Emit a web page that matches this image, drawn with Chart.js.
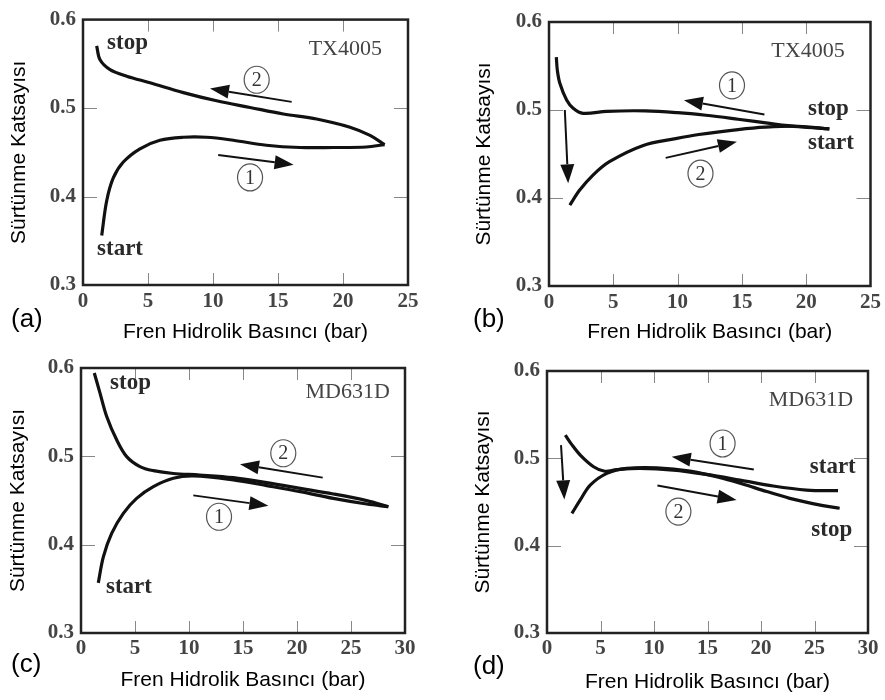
<!DOCTYPE html>
<html lang="tr">
<head>
<meta charset="UTF-8">
<title>Sürtünme Katsayısı - Fren Hidrolik Basıncı</title>
<style>
  body { margin: 0; background: #fff; }
  .wrap { position: relative; width: 885px; height: 700px; overflow: hidden; background: #fff; }
  canvas { position: absolute; }
  .lbl { position: absolute; font-family: "Liberation Sans", Arial, sans-serif; font-size: 26px; line-height: 26px; color: #000; }
</style>
</head>
<body>
<div class="wrap">
  <canvas id="chA" width="440" height="345" style="left:0;top:0"></canvas>
  <canvas id="chB" width="445" height="345" style="left:440px;top:0"></canvas>
  <canvas id="chC" width="440" height="355" style="left:0;top:345px"></canvas>
  <canvas id="chD" width="445" height="355" style="left:440px;top:345px"></canvas>
  <span class="lbl" style="left:11px;top:305px">(a)</span>
  <span class="lbl" style="left:473px;top:305px">(b)</span>
  <span class="lbl" style="left:11px;top:650px">(c)</span>
  <span class="lbl" style="left:473px;top:652px">(d)</span>
</div>

<script src="https://cdn.jsdelivr.net/npm/chart.js@4.4.1/dist/chart.umd.min.js"></script>
<script>
  // ticks shared by the four panels
  const yTicks = [0.3, 0.4, 0.5, 0.6];
  const yTickLabels = ['0.3', '0.4', '0.5', '0.6'];
  const xTicks25 = [0, 5, 10, 15, 20, 25];
  const xTicks30 = [0, 5, 10, 15, 20, 25, 30];

  // (a) TX4005 - path 1 start -> right, path 2 back -> stop
  const aX1 = [1.44, 1.82, 2.33, 3.1, 4.38, 5.92, 7.72, 9.5, 11.56, 14.1, 16.7, 19.26, 21.8, 23.2];
  const aY1 = [0.356, 0.395, 0.421, 0.439, 0.454, 0.4636, 0.467, 0.467, 0.4636, 0.458, 0.4554, 0.4554, 0.456, 0.4587];
  const aX2 = [23.2, 22.08, 20.54, 17.97, 15.41, 12.85, 10.28, 7.72, 5.15, 3.36, 2.08, 1.31, 1.05];
  const aY2 = [0.4587, 0.4691, 0.4784, 0.4877, 0.4933, 0.5007, 0.5082, 0.5175, 0.5286, 0.536, 0.5435, 0.5546, 0.5703];

  // (b) TX4005 - path 1 right -> left (top), path 2 left -> right (bottom)
  const bX1 = [21.8, 19.4, 17.3, 14.7, 12.2, 10.0, 7.5, 4.5, 2.65, 1.88, 1.37, 0.85, 0.65, 0.57];
  const bY1 = [0.4785, 0.481, 0.4845, 0.4895, 0.494, 0.497, 0.499, 0.4985, 0.4962, 0.502, 0.5114, 0.530, 0.545, 0.560];
  const bX2 = [1.62, 2.39, 3.42, 4.7, 7.28, 9.85, 11.65, 14.7, 16.8, 19.4, 21.8];
  const bY2 = [0.392, 0.409, 0.4261, 0.4413, 0.4595, 0.4675, 0.4722, 0.4778, 0.4805, 0.4815, 0.4785];

  // (c) MD631D
  const cX1 = [1.6, 2.07, 2.84, 3.92, 5.15, 6.7, 8.55, 10.4, 14.1, 17.2, 20.3, 23.36, 26.45, 28.46];
  const cY1 = [0.3567, 0.3862, 0.4127, 0.4354, 0.4524, 0.4657, 0.4751, 0.4778, 0.4733, 0.4668, 0.46, 0.4524, 0.446, 0.443];
  const cX2 = [28.46, 26.45, 23.36, 20.3, 17.2, 14.1, 11.0, 8.55, 6.7, 5.46, 4.23, 3.3, 2.38, 1.76, 1.23];
  const cY2 = [0.443, 0.4498, 0.4574, 0.4638, 0.4702, 0.4759, 0.4789, 0.4806, 0.4838, 0.4884, 0.4997, 0.5187, 0.5451, 0.5716, 0.5943];

  // (d) MD631D
  const dX1 = [27.2, 24.25, 21.14, 18.03, 14.92, 11.81, 8.7, 6.5, 5.4, 4.35, 3.11, 2.3, 1.71];
  const dY1 = [0.463, 0.4637, 0.4683, 0.4751, 0.4816, 0.4866, 0.4885, 0.487, 0.4852, 0.4904, 0.5037, 0.516, 0.5265];
  const dX2 = [2.33, 3.11, 4.04, 5.6, 7.46, 10.26, 13.37, 16.48, 19.58, 22.69, 25.8, 27.35];
  const dY2 = [0.437, 0.4523, 0.4694, 0.4828, 0.4885, 0.4892, 0.4854, 0.477, 0.4656, 0.4542, 0.4458, 0.4428];

  const serif = '"Liberation Serif", "Times New Roman", serif';
  const sans = '"Liberation Sans", Arial, sans-serif';

  // draws frame, inner ticks, arrows, circled numbers and words
  function marks(cfg) {
    return {
      id: 'marks',
      afterDraw(chart) {
        const {ctx, chartArea: a, scales: {x, y}} = chart;
        ctx.save();
        ctx.strokeStyle = '#888';
        ctx.lineWidth = 1;
        ctx.beginPath();
        cfg.xTicks.slice(1, -1).forEach(v => {
          const px = Math.round(x.getPixelForValue(v)) + 0.5;
          ctx.moveTo(px, a.bottom); ctx.lineTo(px, a.bottom - 12);
          ctx.moveTo(px, a.top); ctx.lineTo(px, a.top + 12);
        });
        yTicks.slice(1, -1).forEach(v => {
          const py = Math.round(y.getPixelForValue(v)) + 0.5;
          ctx.moveTo(a.left, py); ctx.lineTo(a.left + 14, py);
          ctx.moveTo(a.right, py); ctx.lineTo(a.right - 14, py);
        });
        ctx.stroke();

        ctx.strokeStyle = '#222';
        ctx.lineWidth = 2.5;
        ctx.strokeRect(a.left, a.top, a.right - a.left, a.bottom - a.top);

        ctx.fillStyle = '#111';
        ctx.strokeStyle = '#111';
        cfg.arrows.forEach(r => {
          const x0 = x.getPixelForValue(r[0]), y0 = y.getPixelForValue(r[1]);
          const x1 = x.getPixelForValue(r[2]), y1 = y.getPixelForValue(r[3]);
          const ang = Math.atan2(y1 - y0, x1 - x0);
          const L = 19, W = 7;
          const bx = x1 - L * Math.cos(ang), by = y1 - L * Math.sin(ang);
          ctx.lineWidth = 2;
          ctx.beginPath(); ctx.moveTo(x0, y0); ctx.lineTo(bx, by); ctx.stroke();
          ctx.beginPath();
          ctx.moveTo(x1, y1);
          ctx.lineTo(bx + W * Math.sin(ang), by - W * Math.cos(ang));
          ctx.lineTo(bx - W * Math.sin(ang), by + W * Math.cos(ang));
          ctx.closePath(); ctx.fill();
        });

        ctx.textAlign = 'center';
        ctx.textBaseline = 'middle';
        cfg.circles.forEach(c => {
          const px = x.getPixelForValue(c[1]), py = y.getPixelForValue(c[2]);
          ctx.strokeStyle = '#555';
          ctx.lineWidth = 1.2;
          ctx.beginPath(); ctx.ellipse(px, py, 12.5, 13.5, 0, 0, Math.PI * 2); ctx.stroke();
          ctx.fillStyle = '#333';
          ctx.font = '20px ' + serif;
          ctx.fillText(c[0], px, py + 1);
        });

        ctx.textAlign = 'left';
        ctx.fillStyle = '#2a2a2a';
        ctx.font = 'bold 23px ' + serif;
        cfg.words.forEach(w => {
          ctx.fillText(w[0], x.getPixelForValue(w[1]), y.getPixelForValue(w[2]));
        });

        ctx.textAlign = 'right';
        ctx.fillStyle = '#444';
        ctx.font = '22px ' + serif;
        ctx.fillText(cfg.model[0], x.getPixelForValue(cfg.model[1]), y.getPixelForValue(cfg.model[2]));
        ctx.restore();
      }
    };
  }

  function pts(xs, ys) {
    return xs.map((v, i) => ({x: v, y: ys[i]}));
  }

  function makeChart(id, cfg) {
    const tickFont = {family: serif, size: 21, weight: 'bold'};
    const titleFont = {family: sans, size: 21};
    return new Chart(document.getElementById(id), {
      type: 'line',
      data: {
        datasets: cfg.paths.map(p => ({
          data: pts(p[0], p[1]),
          borderColor: '#111',
          borderWidth: 3.2,
          pointRadius: 0,
          tension: 0.35,
          fill: false
        }))
      },
      options: {
        responsive: false,
        animation: false,
        layout: {padding: cfg.pad},
        plugins: {legend: {display: false}, tooltip: {enabled: false}},
        scales: {
          x: {
            type: 'linear',
            min: 0,
            max: cfg.xTicks[cfg.xTicks.length - 1],
            afterBuildTicks: s => { s.ticks = cfg.xTicks.map(v => ({value: v})); },
            afterFit: s => { s.height = cfg.xh; },
            grid: {display: false, drawTicks: false},
            border: {display: false},
            ticks: {font: tickFont, color: '#444', padding: cfg.xtp, maxRotation: 0,
                    callback: v => String(v)},
            title: {display: true, text: 'Fren Hidrolik Basıncı (bar)', font: titleFont, color: '#000',
                    padding: {top: 0, bottom: cfg.xtb}}
          },
          y: {
            type: 'linear',
            min: 0.3,
            max: 0.6,
            afterBuildTicks: s => { s.ticks = yTicks.map(v => ({value: v})); },
            afterFit: s => { s.width = cfg.yw; },
            grid: {display: false, drawTicks: false},
            border: {display: false},
            ticks: {font: tickFont, color: '#444', padding: 7,
                    callback: (v, i) => yTickLabels[i]},
            title: {display: true, text: 'Sürtünme Katsayısı', font: titleFont, color: '#000',
                    padding: {top: cfg.ytp, bottom: 0}}
          }
        }
      },
      plugins: [marks(cfg)]
    });
  }

  makeChart('chA', {
    paths: [[aX1, aY1], [aX2, aY2]],
    xTicks: xTicks25,
    pad: {left: 0, top: 16, right: 32, bottom: 0},
    yw: 83, xh: 60, xtp: 4, xtb: 0, ytp: 7,
    words: [['stop', 1.85, 0.573], ['start', 1.08, 0.341]],
    model: ['TX4005', 23.0, 0.566],
    arrows: [[10.4, 0.447, 16.2, 0.436], [16.05, 0.507, 9.77, 0.522]],
    circles: [['1', 12.85, 0.4216], ['2', 13.36, 0.532]]
  });

  makeChart('chB', {
    paths: [[bX1, bY1], [bX2, bY2]],
    xTicks: xTicks25,
    pad: {left: 0, top: 22, right: 12, bottom: 0},
    yw: 109, xh: 59, xtp: 4, xtb: 0, ytp: 32,
    words: [['stop', 20.14, 0.5008], ['start', 20.14, 0.4622]],
    model: ['TX4005', 22.99, 0.567],
    arrows: [[1.23, 0.5, 1.49, 0.4167], [16.75, 0.4948, 10.49, 0.5111], [9.07, 0.4456, 14.61, 0.4638]],
    circles: [['1', 14.23, 0.528], ['2', 11.78, 0.4278]]
  });

  makeChart('chC', {
    paths: [[cX1, cY1], [cX2, cY2]],
    xTicks: xTicks30,
    pad: {left: 0, top: 23, right: 35, bottom: 0},
    yw: 81, xh: 67, xtp: 3, xtb: 7, ytp: 6,
    words: [['stop', 2.69, 0.583], ['start', 2.31, 0.3522]],
    model: ['MD631D', 28.6, 0.5728],
    arrows: [[22.38, 0.4759, 14.72, 0.491], [10.4, 0.4558, 17.35, 0.4441]],
    circles: [['2', 18.73, 0.5035], ['1', 12.78, 0.4316]]
  });

  makeChart('chD', {
    paths: [[dX1, dY1], [dX2, dY2]],
    xTicks: xTicks30,
    pad: {left: 0, top: 26, right: 17, bottom: 0},
    yw: 107, xh: 67, xtp: 3, xtb: 5, ytp: 31,
    words: [['start', 24.56, 0.4904], ['stop', 24.7, 0.418]],
    model: ['MD631D', 28.6, 0.5665],
    arrows: [[1.31, 0.5151, 1.62, 0.453], [19.33, 0.4873, 11.66, 0.5018], [10.32, 0.469, 17.72, 0.4523]],
    circles: [['1', 16.41, 0.517], ['2', 12.28, 0.439]]
  });
</script>
</body>
</html>
